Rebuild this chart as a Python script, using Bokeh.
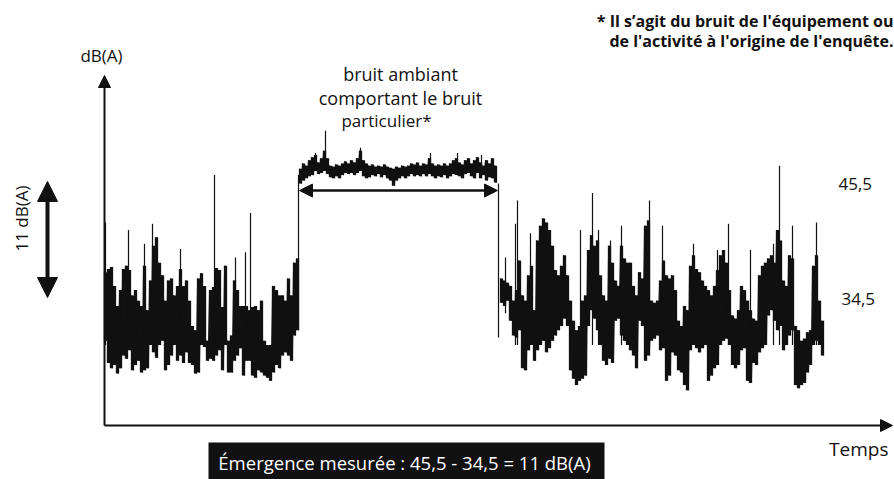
import math
from bokeh.plotting import figure
from bokeh.models import Range1d, Arrow, NormalHead, Label, BoxAnnotation
from bokeh.embed import file_html
from bokeh.resources import INLINE

# ---------------- data (dB(A) levels) ----------------
REF_LOW = 34.5    # residual noise level
REF_HIGH = 45.5   # ambient noise level with the particular noise
EMERGENCE = 11

STEP = 3
left_start = 105
left_hi = [36.9, 37.2, 37.4, 35.6, 33.7, 35.2, 37.2, 37.5, 37.1, 34.7, 35.2, 34.2, 33.7,
           37.5, 33.3, 36.1, 39.4, 40.2, 37.8, 36.6, 34.2, 36.1, 36.3, 34.7, 35.6, 37.2,
           35.6, 36.1, 34.2, 31.8, 31.4, 36.3, 36.8, 35.6, 30.4, 35.2, 35.5, 37.3, 37.1,
           33.6, 37.5, 30.4, 30.9, 36.1, 35.2, 33.7, 33.7, 33.7, 33.3, 33.6, 33.7, 33.3,
           34.2, 30.4, 30.0, 30.0, 35.6, 35.2, 34.7, 34.7, 34.2, 36.3, 34.7, 37.8, 38.2]
left_lo = [30.4, 28.3, 27.8, 28.1, 27.3, 27.8, 29.0, 28.7, 29.5, 27.6, 28.1, 28.5, 27.4,
           27.6, 27.8, 30.0, 29.3, 28.8, 30.0, 30.4, 27.6, 28.1, 29.0, 30.0, 28.5, 29.0,
           28.3, 29.3, 28.3, 28.1, 27.3, 27.4, 30.0, 29.8, 28.5, 28.7, 28.5, 29.0, 29.5,
           27.6, 30.0, 27.4, 27.4, 28.5, 29.0, 29.7, 27.1, 28.5, 28.5, 27.1, 26.9, 27.6,
           27.4, 27.1, 26.9, 26.6, 27.4, 28.1, 27.8, 29.0, 29.3, 29.0, 28.5, 30.9, 31.4]

mid_start = 300
mid_hi = [46.7, 47.2, 47.0, 47.5, 47.8, 48.0, 47.3, 47.7, 48.4, 47.7, 47.0, 46.9, 47.1,
          47.0, 47.2, 47.4, 47.2, 47.5, 47.3, 47.7, 48.4, 47.5, 47.2, 47.0, 47.1, 46.9,
          47.0, 46.9, 47.1, 46.9, 46.8, 46.7, 46.9, 46.8, 47.0, 46.9, 47.0, 47.2, 47.1,
          47.3, 47.0, 47.2, 47.1, 47.7, 47.2, 47.0, 47.1, 47.0, 47.2, 47.0, 47.2, 47.5,
          47.7, 47.3, 47.1, 47.5, 47.7, 47.2, 47.5, 47.8, 47.3, 47.0, 47.5, 47.2, 47.7, 47.0]
mid_lo = [45.3, 45.6, 45.8, 46.0, 46.1, 46.5, 46.2, 46.3, 46.5, 46.2, 45.9, 45.8, 46.0,
          45.8, 46.1, 46.3, 46.2, 46.3, 46.1, 46.3, 46.5, 46.0, 45.8, 45.9, 46.1, 46.0,
          46.2, 45.9, 46.1, 45.8, 45.6, 45.1, 45.6, 45.8, 46.0, 45.8, 46.0, 46.2, 46.0,
          46.1, 46.0, 46.2, 46.0, 46.2, 46.0, 45.8, 46.0, 45.9, 46.1, 45.8, 46.0, 46.2,
          46.1, 46.0, 45.8, 46.2, 46.3, 46.0, 45.8, 46.3, 45.8, 46.1, 45.6, 45.9, 45.8, 45.4]

right_start = 501
right_hi = [36.3, 36.1, 35.9, 35.6, 34.2, 35.2, 38.0, 34.7, 34.2, 36.6, 37.5, 33.3, 39.9,
            41.3, 42.0, 41.6, 40.9, 39.4, 37.1, 36.6, 37.5, 38.5, 36.6, 34.2, 32.3, 31.4,
            31.8, 34.2, 34.7, 39.0, 40.4, 39.4, 39.9, 36.6, 34.7, 34.2, 39.4, 37.8, 36.1,
            35.6, 39.4, 38.2, 37.8, 37.8, 35.6, 34.7, 36.9, 36.3, 41.3, 41.8, 34.2, 34.0,
            34.2, 36.1, 38.0, 36.6, 36.3, 36.6, 35.2, 32.3, 31.8, 33.7, 33.3, 37.5, 38.5,
            37.2, 36.9, 36.1, 35.6, 35.2, 34.7, 35.6, 37.1, 38.5, 39.0, 37.8, 35.2, 32.8,
            32.5, 33.3, 35.6, 35.2, 34.2, 33.3, 32.5, 32.3, 36.6, 37.5, 37.8, 38.2, 38.5,
            37.8, 40.9, 39.9, 36.1, 35.6, 38.5, 38.2, 31.8, 31.4, 30.4, 30.6, 31.2, 31.4,
            37.5, 38.5, 34.2, 32.3]
right_lo = [34.0, 33.7, 34.2, 32.3, 30.9, 30.7, 31.4, 27.8, 27.6, 29.5, 30.0, 28.5, 29.5,
            30.0, 30.4, 29.3, 29.7, 30.4, 30.9, 31.4, 31.8, 32.5, 31.8, 27.6, 26.8, 26.2,
            26.6, 26.8, 27.1, 31.8, 33.3, 32.5, 31.4, 30.0, 28.5, 28.1, 28.7, 28.3, 32.3,
            32.5, 30.9, 30.4, 30.0, 29.5, 29.0, 27.8, 32.3, 31.8, 28.5, 29.0, 30.4, 30.6,
            30.9, 29.5, 29.7, 26.6, 27.1, 29.3, 29.0, 27.6, 27.4, 26.2, 25.7, 29.5, 30.0,
            29.7, 29.3, 29.7, 30.0, 26.6, 27.1, 27.8, 28.1, 30.0, 30.4, 30.6, 30.0, 28.1,
            27.8, 28.1, 29.5, 29.7, 26.6, 26.4, 28.3, 28.1, 29.3, 29.7, 30.0, 32.8, 33.3,
            32.3, 31.4, 31.8, 29.5, 30.0, 30.9, 31.4, 26.2, 25.9, 26.2, 26.4, 27.4, 28.1,
            30.0, 30.4, 30.0, 29.0]

# isolated short peaks (time position, peak level, foot level)
spike_t = [105, 128, 144, 152, 180, 214, 235, 245, 250, 298,
           315, 325, 360, 430, 457, 481, 498,
           505, 515, 517, 530, 580, 592, 598, 610, 621, 649, 662, 693,
           717, 728, 750, 773, 779, 792, 816]
spike_top = [41.6, 40.9, 39.6, 41.5, 39.1, 46.1, 38.3, 38.8, 42.5, 46.1,
             48.2, 50.3, 48.7, 48.2, 48.2, 48.0, 45.3,
             38.3, 41.5, 43.7, 40.6, 40.9, 44.4, 40.9, 39.9, 41.3, 43.7, 41.3, 39.6,
             39.0, 41.5, 39.0, 39.6, 47.0, 41.3, 41.6]
spike_base = [30.0, 30.0, 30.0, 30.0, 30.0, 30.0, 30.0, 30.0, 30.0, 31.4,
              46.5, 46.5, 46.5, 46.5, 46.5, 46.5, 30.7,
              33.0, 30.0, 30.0, 30.0, 30.0, 30.0, 30.0, 30.0, 30.0, 30.0, 30.0, 30.0,
              30.0, 30.0, 30.0, 30.0, 30.0, 30.0, 30.0]

# ---------------- layout ----------------
W, H = 894, 479
PX_LOW = 297.0                 # pixel row of REF_LOW
K = 10.55                      # pixels per dB


def yv(row):
    """dB value at a given pixel row (used only to place annotations)."""
    return REF_LOW + (PX_LOW - row) / K


FONT = "Open Sans"
INK = "#111111"

p = figure(width=W, height=H, output_backend="svg", toolbar_location=None,
           x_range=Range1d(0, W), y_range=Range1d(yv(H), yv(0)),
           min_border=0, outline_line_color=None)
p.axis.visible = False
p.grid.visible = False
p.background_fill_color = "white"
p.border_fill_color = "white"

# ---------------- signal ----------------
for start, hi, lo in ((left_start, left_hi, left_lo),
                      (mid_start, mid_hi, mid_lo),
                      (right_start, right_hi, right_lo)):
    t = [start + STEP * i for i in range(len(hi))]
    p.vbar(x=t, bottom=lo, top=hi, width=STEP * 1.1, color=INK, line_width=0)
    xs, ys = [], []
    for ti, h, l in zip(t, hi, lo):
        xs += [ti - 0.75, ti + 0.75]
        ys += [h, l]
    p.line(xs, ys, color=INK, line_width=1.3)

p.segment(x0=spike_t, y0=spike_base, x1=spike_t, y1=spike_top, color=INK, line_width=1.2)

# ---------------- axes ----------------
x0_axis = 104
y_axis_row = yv(425)
p.add_layout(Arrow(x_start=x0_axis, y_start=y_axis_row, x_end=x0_axis, y_end=yv(75),
                   line_width=2, line_color=INK,
                   end=NormalHead(size=12, fill_color=INK, line_color=INK)))
p.add_layout(Arrow(x_start=x0_axis, y_start=y_axis_row, x_end=892, y_end=y_axis_row,
                   line_width=2, line_color=INK,
                   end=NormalHead(size=12, fill_color=INK, line_color=INK)))

# emergence arrow (left)
p.add_layout(Arrow(x_start=47, y_start=REF_LOW, x_end=47, y_end=REF_LOW + EMERGENCE,
                   line_width=4, line_color=INK,
                   start=NormalHead(size=20, fill_color=INK, line_color=INK),
                   end=NormalHead(size=20, fill_color=INK, line_color=INK)))

# duration arrow under ambient noise
p.add_layout(Arrow(x_start=299, y_start=yv(190), x_end=497, y_end=yv(190),
                   line_width=2.5, line_color=INK,
                   start=NormalHead(size=13, fill_color=INK, line_color=INK),
                   end=NormalHead(size=13, fill_color=INK, line_color=INK)))


# ---------------- texts ----------------
def label(x, row, text, size=15, align="center", bold=False, color=INK, angle=0.0):
    p.add_layout(Label(x=x, y=yv(row), text=text, text_font=FONT,
                       text_font_size=f"{size}px", text_align=align,
                       text_baseline="middle", text_color=color,
                       text_font_style="bold" if bold else "normal", angle=angle))


def fr(v):
    return f"{v:.1f}".replace(".", ",")


label(101, 55, "dB(A)", size=17)
label(400, 73, "bruit ambiant", size=18)
label(400, 97, "comportant le bruit", size=18)
label(386, 120, "particulier*", size=17)
label(893, 20, "* Il s\u2019agit du bruit de l'\u00e9quipement ou", size=16, align="right", bold=True)
label(893, 40, "de l'activit\u00e9 \u00e0 l'origine de l'enqu\u00eate.", size=16, align="right", bold=True)
label(838, 183, fr(REF_HIGH), size=17, align="left")
label(841, 298, fr(REF_LOW), size=17, align="left")
label(21, 218, f"{EMERGENCE} dB(A)", size=17, angle=math.pi / 2)
label(888, 448, "Temps", size=19, align="right")

p.add_layout(BoxAnnotation(left=208, right=604, top=yv(442), bottom=yv(479),
                           fill_color=INK, fill_alpha=1.0, line_color=None))
label(404, 462, f"\u00c9mergence mesur\u00e9e : {fr(REF_HIGH)} - {fr(REF_LOW)} = {EMERGENCE} dB(A)",
      size=18.5, color="white")

open("out.html", "w").write(file_html(p, INLINE))
